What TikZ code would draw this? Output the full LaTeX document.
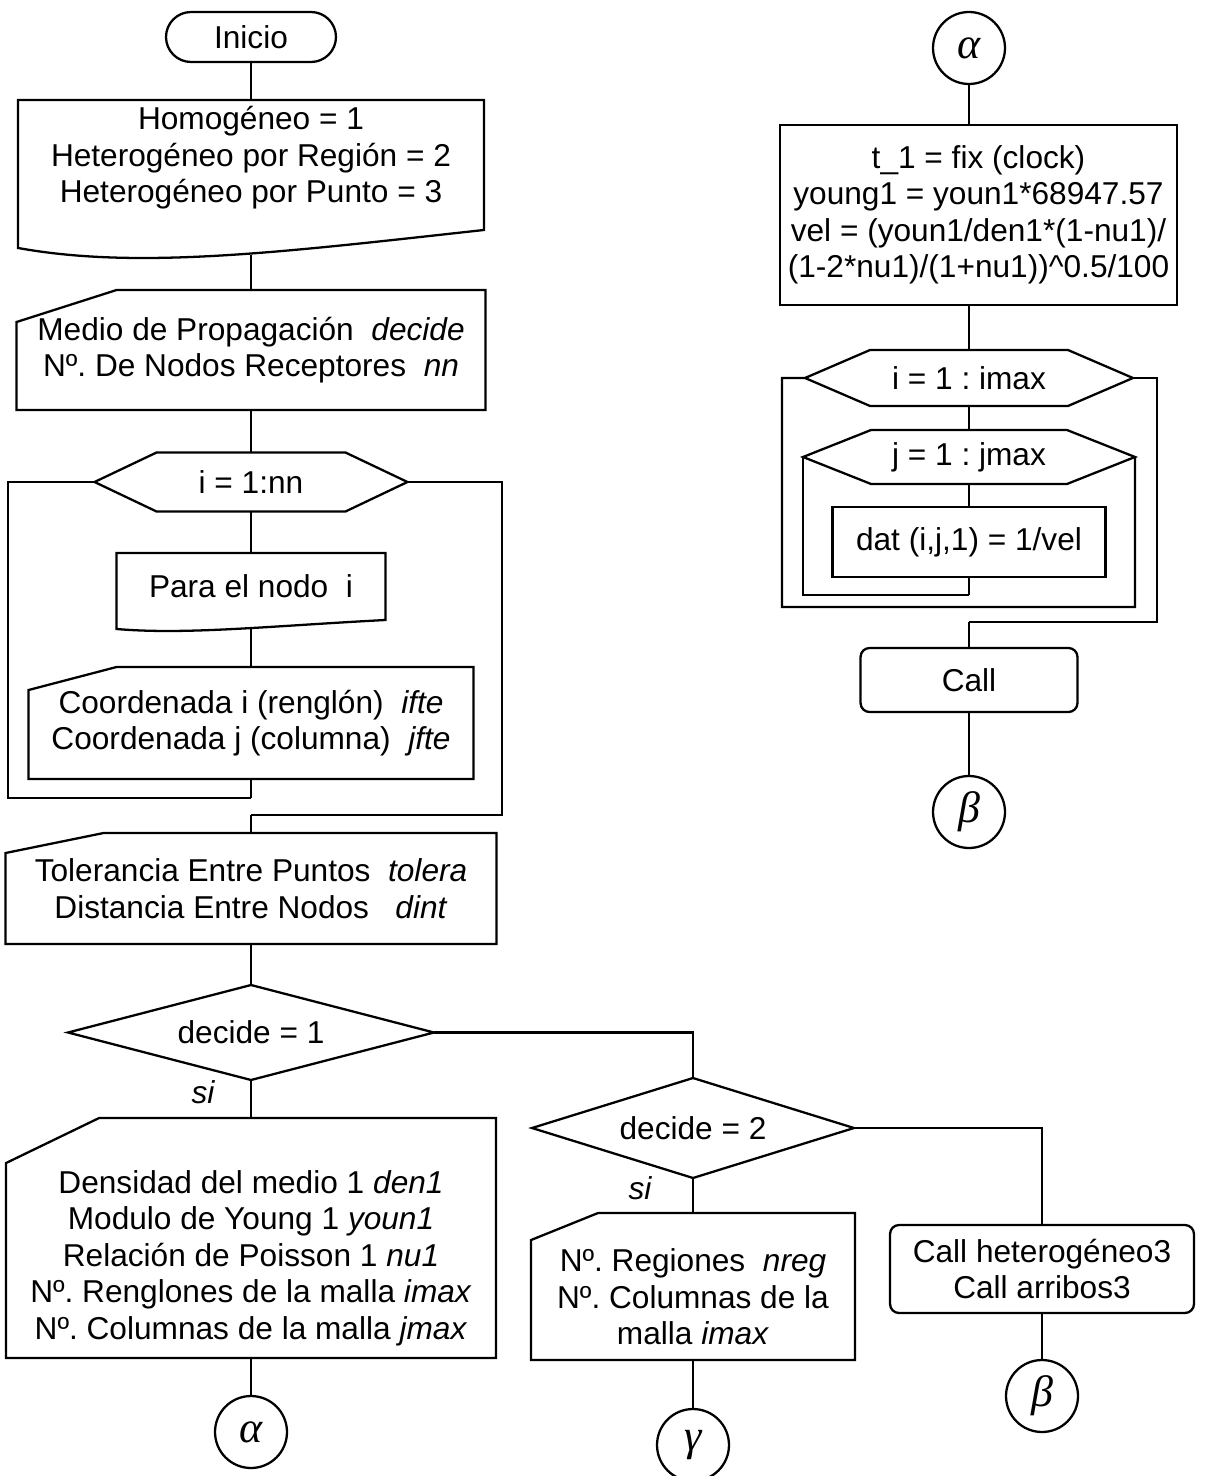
\documentclass[tikz,border=0pt]{standalone}
\usepackage{fontspec}
\setmainfont{Liberation Sans}
\newfontfamily\griega{Liberation Serif}
\usepackage{tikz}
\usetikzlibrary{calc}
\frenchspacing

% flowchart outlines drawn around plain nodes
% manual input: node, slant width, slant drop, top raise
\newcommand{\manualin}[4]{%
  \draw (#1.south west) -- ($(#1.north west)+(0,#3-#4)$) -- ($(#1.north west)+(#2,-#4)$)
    -- ($(#1.north east)+(0,-#4)$) -- (#1.south east) -- cycle;}
% document: node, right drop, left drop, bulge
\newcommand{\docshape}[4]{%
  \draw (#1.north west) -- (#1.north east) -- ($(#1.south east)+(0,#2)$)
    .. controls ($(#1.south east)!0.43!(#1.south west)+(0,#2+#4)$)
    and ($(#1.south east)!0.74!(#1.south west)+(0,#3+#4)$) .. ($(#1.south west)+(0,#3)$) -- cycle;}
% loop hexagon: node, slant
\newcommand{\hexloop}[2]{%
  \draw (#1.west) -- ($(#1.north west)+(#2,0)$) -- ($(#1.north east)+(-#2,0)$) -- (#1.east)
    -- ($(#1.south east)+(-#2,0)$) -- ($(#1.south west)+(#2,0)$) -- cycle;}
% decision
\newcommand{\rombo}[1]{\draw (#1.west) -- (#1.north) -- (#1.east) -- (#1.south) -- cycle;}

\tikzset{
  base/.style={font=\fontsize{18}{20.8}\selectfont, align=center, inner sep=0pt, outer sep=0pt},
  plain/.style={base},
  terminal/.style={base, draw, rounded corners=0.5cm, minimum width=3.4cm, minimum height=1cm},
  proc/.style={base, draw},
  callbox/.style={base, draw, rounded corners=0.18cm},
  conn/.style={base, draw, circle, minimum size=1.44cm, font=\griega\itshape\fontsize{25}{26}\selectfont},
  silabel/.style={font=\fontsize{18}{20}\selectfont\itshape}
}

\begin{document}
\begin{tikzpicture}[x=0.02cm, y=-0.02cm, line width=1.3pt]
    \useasboundingbox (0,0) rectangle (1216,1476);

    % Left column
    \node [terminal] (inicio) at (251,37) {Inicio};
    \node [plain, minimum width=9.32cm, minimum height=2.32cm] (homog) at (251,158)
        {Homogéneo = 1\\Heterogéneo por Región = 2\\Heterogéneo por Punto = 3};
    \node [plain, minimum width=9.38cm, minimum height=2.4cm] (medio) at (251,350)
        {Medio de Propagación\ \ \textit{decide}\\Nº. De Nodos Receptores\ \ \textit{nn}};
    \node [plain, minimum width=6.26cm, minimum height=1.18cm] (lazo1) at (251,482) {i = 1:nn};
    \node [plain, minimum width=5.38cm, minimum height=1.34cm] (paranodo) at (251,586.5) {Para el nodo\ \ i};
    \node [plain, minimum width=8.9cm, minimum height=2.24cm] (coord) at (251,723)
        {Coordenada i (renglón)\ \ \textit{ifte}\\Coordenada j (columna)\ \ \textit{jfte}};
    \node [plain, minimum width=9.82cm, minimum height=2.22cm] (toler) at (251,888.5)
        {Tolerancia Entre Puntos\ \ \textit{tolera}\\Distancia Entre Nodos\ \ \ \textit{dint}};
    \node [plain, minimum width=7.32cm, minimum height=1.9cm] (dec1) at (251,1032.5) {decide = 1};
    \node [silabel] (si1) at (203,1092) {si};
    \node [plain, minimum width=9.8cm, minimum height=4cm] (dens) at (251,1258)
        {Densidad del medio 1 \textit{den1}\\Modulo de Young 1 \textit{youn1}\\Relación de Poisson 1 \textit{nu1}\\
         Nº. Renglones de la malla \textit{imax}\\Nº. Columnas de la malla \textit{jmax}};
    \node [conn] (alfa1) at (251,1432) {α};

    % Middle and right branches
    \node [plain, minimum width=6.44cm, minimum height=2cm] (dec2) at (693,1128) {decide = 2};
    \node [silabel] (si2) at (640,1188) {si};
    \node [plain, minimum width=6.48cm, minimum height=2.52cm] (regn) at (693,1297)
        {Nº. Regiones\ \ \textit{nreg}\\Nº. Columnas de la\\malla \textit{imax}};
    \node [conn] (gama) at (693,1445) {γ};
    \node [callbox, minimum width=6.08cm, minimum height=1.76cm] (callh) at (1042,1269)
        {Call heterogéneo3\\Call arribos3};
    \node [conn] (beta1) at (1042,1396) {β};

    % Right column
    \node [conn] (alfa2) at (969,48) {α};
    \node [proc, minimum width=7.94cm, minimum height=3.6cm] (velbox) at (978.5,215)
        {t\_1 = fix (clock)\\young1 = youn1*68947.57\\vel = (youn1/den1*(1-nu1)/\\(1-2*nu1)/(1+nu1))\textasciicircum 0.5/100};
    \node [plain, minimum width=6.56cm, minimum height=1.12cm] (lazo2) at (969,378) {i = 1 : imax};
    \node [plain, minimum width=6.64cm, minimum height=1.08cm] (lazo3) at (969,457) {j = 1 : jmax};
    \node [proc, minimum width=5.46cm, minimum height=1.4cm] (dat) at (969,542) {dat (i,j,1) = 1/vel};
    \node [callbox, minimum width=4.34cm, minimum height=1.28cm] (callc) at (969,680) {Call};
    \node [conn] (beta2) at (969,812) {β};

    % Outlines
    \docshape{homog}{14}{32}{22}
    \manualin{medio}{100}{32}{0}
    \hexloop{lazo1}{62}
    \docshape{paranodo}{0}{9}{6}
    \manualin{coord}{88}{23}{0}
    \manualin{toler}{98}{20}{0}
    \rombo{dec1}
    \manualin{dens}{93}{45}{40}
    \rombo{dec2}
    \manualin{regn}{67}{27}{21}
    \hexloop{lazo2}{65}
    \hexloop{lazo3}{68}

    % Connectors, left column
    \draw (inicio.south) -- (homog.north);
    \draw ($(homog.south)+(0,39)$) -- (medio.north);
    \draw (medio.south) -- (lazo1.north);
    \draw (lazo1.south) -- (paranodo.north);
    \draw ($(paranodo.south)+(0,9)$) -- (coord.north);
    \coordinate (fin1) at (251,798);
    \coordinate (sal1) at (251,815);
    \draw (lazo1.west) -- ++(-86.5,0) |- (fin1);
    \draw (coord.south) -- (fin1);
    \draw (lazo1.east) -- ++(94.5,0) |- (sal1);
    \draw (sal1) -- (toler.north);
    \draw (toler.south) -- (dec1.north);
    \draw (dec1.south) -- ($(dens.north)+(0,-40)$);
    \draw (dens.south) -- (alfa1.north);

    % Connectors, branches
    \draw (dec1.east) -| (dec2.north);
    \draw (dec2.south) -- ($(regn.north)+(0,-21)$);
    \draw (regn.south) -- (gama.north);
    \draw (dec2.east) -| (callh.north);
    \draw (callh.south) -- (beta1.north);

    % Connectors, right column
    \draw (alfa2.south) -- (alfa2.south |- velbox.north);
    \draw (lazo2.north |- velbox.south) -- (lazo2.north);
    \draw (lazo2.south) -- (lazo3.north);
    \draw (lazo3.south) -- (dat.north);
    \coordinate (fin3) at (969,595);
    \draw (lazo3.west) |- (fin3);
    \draw (dat.south) -- (fin3);
    \coordinate (fin2) at (1135,607);
    \draw (lazo2.west) -- ++(-23,0) |- (fin2) -- (lazo3.east);
    \coordinate (sal2) at (969,622);
    \draw (lazo2.east) -- ++(24,0) |- (sal2);
    \draw (sal2) -- (callc.north);
    \draw (callc.south) -- (beta2.north);
\end{tikzpicture}
\end{document}
